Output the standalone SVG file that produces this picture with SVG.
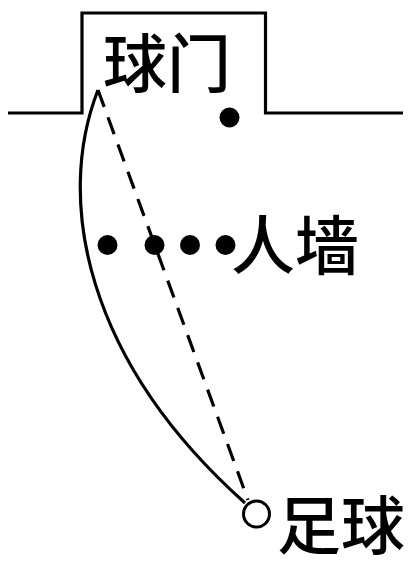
<svg xmlns="http://www.w3.org/2000/svg" width="419" height="561" viewBox="0 0 419 561">
<style>
.ln{fill:none;stroke:#000;stroke-width:3.2}
.dash{fill:none;stroke:#000;stroke-width:3.2;stroke-dasharray:18 11}
.dot{fill:#000}
.lbl{font-family:"Noto Sans CJK SC","Noto Sans CJK JP",sans-serif;font-size:64px;font-weight:500;fill:#000}
</style>
<rect width="419" height="561" fill="#fff"/>
<g id="goal">
<path class="ln" d="M8,113 H82 V13 H265.5 V113 H403"/>
<text class="lbl" x="103" y="87">球门</text>
</g>
<g id="keeper"><circle class="dot" cx="229.5" cy="117.5" r="10"/></g>
<g id="wall">
<circle class="dot" cx="107.5" cy="245" r="10"/>
<circle class="dot" cx="154.5" cy="245" r="10"/>
<circle class="dot" cx="190" cy="245" r="10"/>
<circle class="dot" cx="225.5" cy="245" r="10"/>
<text class="lbl" x="231" y="269">人墙</text>
</g>
<g id="ball">
<circle cx="256.5" cy="514" r="13" fill="#fff" stroke="#000" stroke-width="3"/>
<text class="lbl" x="277" y="549">足球</text>
</g>
<g id="connectors">
<path class="ln" d="M98,90 C55,200 85,360 245,503"/>
<path class="dash" d="M98,90 L248,500"/>
</g>
</svg>
